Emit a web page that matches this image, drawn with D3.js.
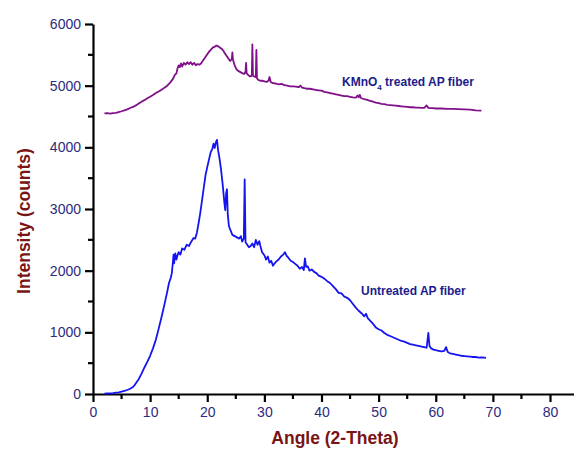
<!DOCTYPE html>
<html>
<head>
<meta charset="utf-8">
<script src="https://cdn.jsdelivr.net/npm/d3@7"></script>
<style>
  body { margin: 0; background: #fff; }
  svg { display: block; font-family: "Liberation Sans", Arial, sans-serif; }
</style>
</head>
<body>
<script>
"use strict";

///////////////////
// data
///////////////////

// untreated AP fiber: [angle, counts]
var untreated = [
  [2.0,5],[2.5,8],[3,10],[3.5,15],[4,22],[4.5,28],[5,38],[5.5,50],[6,65],[6.5,85],
  [7,115],[7.3,145],[7.6,185],[8,240],[8.5,330],[9,430],[9.5,520],[10,620],[10.5,740],
  [11,880],[11.5,1060],[12,1250],[12.5,1450],[13,1660],[13.3,1800],[13.6,1880],[13.8,1960],
  [14.0,2150],[14.1,2260],[14.2,2120],[14.4,2280],[14.6,2180],[14.8,2250],[15.0,2300],
  [15.3,2260],[15.6,2360],[16.0,2340],[16.4,2420],[16.8,2400],[17.2,2470],[17.6,2530],
  [17.9,2520],[18.2,2620],[18.5,2780],[18.8,2950],[19.1,3150],[19.4,3350],[19.7,3550],
  [20.0,3680],[20.3,3800],[20.6,3920],[20.9,3980],[21.1,4060],[21.3,3990],[21.5,4080],
  [21.7,4120],[21.9,3950],[22.1,3850],[22.4,3650],[22.7,3400],[23.0,3100],[23.15,2980],
  [23.3,3250],[23.45,3320],[23.6,2900],[23.8,2720],[24.1,2650],[24.4,2580],[24.8,2560],
  [25.2,2540],[25.6,2520],[25.9,2560],[26.1,2470],[26.4,2520],[26.55,3480],[26.7,2460],
  [27.0,2420],[27.3,2380],[27.6,2400],[27.9,2440],[28.2,2380],[28.5,2500],[28.8,2420],
  [29.1,2480],[29.3,2400],[29.6,2300],[30.0,2250],[30.3,2180],[30.6,2230],[30.9,2130],
  [31.2,2160],[31.5,2080],[31.8,2120],[32.1,2150],[32.5,2180],[32.9,2230],[33.3,2260],
  [33.6,2300],[33.9,2240],[34.2,2210],[34.6,2160],[35.0,2140],[35.4,2110],[35.8,2080],
  [36.2,2030],[36.6,2060],[36.9,2010],[37.1,2200],[37.3,2060],[37.6,2070],[37.9,2000],
  [38.3,2020],[38.7,1980],[39.1,1960],[39.5,1920],[40.0,1900],[40.5,1870],[41,1830],
  [41.5,1800],[42,1750],[42.5,1700],[43,1640],[43.5,1630],[44,1580],[44.5,1560],
  [45,1520],[45.5,1460],[46,1400],[46.5,1350],[47,1310],[47.5,1260],[47.8,1300],
  [48.1,1230],[48.5,1190],[49,1140],[49.5,1080],[50,1050],[50.5,1030],[51,990],
  [51.5,960],[52,940],[52.5,920],[53,900],[53.5,880],[54,860],[54.5,850],[55,830],
  [55.5,810],[56,800],[56.5,790],[57,780],[57.5,770],[58,760],[58.4,750],[58.7,990],
  [58.9,780],[59.2,740],[59.6,720],[60,710],[60.5,700],[61,690],[61.5,700],[61.8,760],
  [62.1,680],[62.5,660],[63,650],[63.5,640],[64,630],[64.5,620],[65,615],[65.5,610],
  [66,605],[66.5,600],[67,600],[67.5,590],[68,595],[68.5,590],[68.8,585]
];

// KMnO4 treated AP fiber: [angle, counts]
var treated = [
  [2.0,4550],[2.5,4555],[3,4548],[3.5,4556],[4,4560],[4.5,4572],[5,4585],[5.5,4600],
  [6,4615],[6.5,4638],[7,4655],[7.5,4680],[8,4710],[8.5,4740],[9,4765],[9.5,4795],
  [10,4820],[10.5,4850],[11,4880],[11.5,4905],[12,4935],[12.5,4965],[13,5000],
  [13.5,5050],[14,5110],[14.3,5170],[14.6,5200],[14.8,5280],[15.0,5330],[15.2,5300],
  [15.4,5360],[15.6,5310],[15.9,5370],[16.2,5340],[16.5,5380],[16.8,5350],[17.1,5380],
  [17.4,5340],[17.7,5370],[18.0,5330],[18.3,5350],[18.6,5340],[18.9,5360],[19.2,5400],
  [19.5,5440],[19.8,5480],[20.1,5520],[20.4,5560],[20.7,5590],[21.0,5620],[21.3,5630],
  [21.6,5650],[21.9,5640],[22.2,5620],[22.5,5600],[22.8,5570],[23.1,5520],[23.4,5480],
  [23.7,5440],[24.0,5400],[24.3,5430],[24.4,5540],[24.5,5420],[24.8,5330],[25.1,5270],
  [25.4,5240],[25.8,5220],[26.2,5200],[26.5,5190],[26.7,5230],[26.8,5370],[26.9,5200],
  [27.2,5170],[27.5,5150],[27.8,5160],[27.9,5670],[28.0,5160],[28.2,5150],[28.5,5140],
  [28.6,5580],[28.7,5120],[29.0,5090],[29.3,5080],[29.6,5080],[30.0,5070],[30.4,5060],
  [30.7,5080],[30.9,5140],[31.1,5060],[31.5,5040],[32,5035],[32.5,5020],[33,5030],
  [33.5,5010],[34,5000],[34.5,4990],[35,4990],[35.5,4985],[36,4975],[36.3,5000],
  [36.6,4970],[37,4960],[37.5,4950],[38,4950],[38.5,4940],[39,4930],[39.5,4925],
  [40,4920],[40.5,4900],[41,4890],[41.5,4880],[42,4870],[42.5,4860],[43,4850],
  [43.5,4840],[44,4830],[44.5,4830],[45,4820],[45.5,4810],[46,4805],[46.3,4840],
  [46.5,4810],[46.7,4850],[46.9,4800],[47.5,4780],[48,4770],[48.5,4755],[49,4740],
  [49.5,4725],[50,4715],[50.5,4705],[51,4700],[51.5,4690],[52,4685],[52.5,4680],
  [53,4675],[53.5,4670],[54,4665],[54.5,4660],[55,4655],[55.5,4650],[56,4650],
  [56.5,4645],[57,4645],[57.5,4640],[58,4640],[58.4,4680],[58.7,4640],[59,4635],
  [59.5,4635],[60,4630],[61,4630],[62,4625],[63,4625],[64,4620],[65,4615],[66,4610],
  [67,4600],[68,4595]
];

var xTicks = [0, 10, 20, 30, 40, 50, 60, 70, 80];
var yTicks = [0, 1000, 2000, 3000, 4000, 5000, 6000];

///////////////////
// layout
///////////////////
var width = 574, height = 449;
var margin = { top: 24, right: 0, bottom: 55, left: 93 };
var tickColor = "#2b2b80";

var svg = d3.select("body").append("svg")
    .attr("width", width)
    .attr("height", height);

var x = d3.scaleLinear().domain([0, 84.2]).range([margin.left, width - margin.right]);
var y = d3.scaleLinear().domain([0, 6000]).range([height - margin.bottom, margin.top]);

// minor ticks (half steps)
var xMinor = d3.range(5, 85, 10);
var yMinor = d3.range(500, 6000, 1000);

svg.append("g")
    .selectAll("line")
    .data(xMinor)
    .enter().append("line")
    .attr("x1", function(d) { return x(d); })
    .attr("x2", function(d) { return x(d); })
    .attr("y1", y(0))
    .attr("y2", y(0) + 5)
    .attr("stroke", "#000")
    .attr("stroke-width", 2.2);

svg.append("g")
    .selectAll("line")
    .data(yMinor)
    .enter().append("line")
    .attr("x1", x(0) - 5)
    .attr("x2", x(0))
    .attr("y1", function(d) { return y(d); })
    .attr("y2", function(d) { return y(d); })
    .attr("stroke", "#000")
    .attr("stroke-width", 2.2);

// axes
function styleAxis(g) {
    g.select(".domain").attr("stroke", "#000").attr("stroke-width", 2.2);
    g.selectAll(".tick line").attr("stroke", "#000").attr("stroke-width", 2.2);
    g.selectAll(".tick text")
        .attr("fill", tickColor)
        .style("font-size", "14px")
        .style("font-family", "'Liberation Sans', Arial, sans-serif");
}

svg.append("g")
    .attr("transform", "translate(0," + y(0) + ")")
    .call(d3.axisBottom(x).tickValues(xTicks).tickFormat(d3.format("d"))
        .tickSize(8).tickSizeOuter(0).tickPadding(5))
    .call(styleAxis);

svg.append("g")
    .attr("transform", "translate(" + x(0) + ",0)")
    .call(d3.axisLeft(y).tickValues(yTicks).tickFormat(d3.format("d"))
        .tickSize(8).tickSizeOuter(0).tickPadding(4))
    .call(styleAxis);

// lines
var line = d3.line()
    .x(function(d) { return x(d[0]); })
    .y(function(d) { return y(d[1]); });

svg.append("path")
    .datum(treated)
    .attr("d", line)
    .attr("fill", "none")
    .attr("stroke", "#80108a")
    .attr("stroke-width", 1.8)
    .attr("stroke-linejoin", "round");

svg.append("path")
    .datum(untreated)
    .attr("d", line)
    .attr("fill", "none")
    .attr("stroke", "#1414f0")
    .attr("stroke-width", 1.8)
    .attr("stroke-linejoin", "round");

// annotations
var kLabel = svg.append("text")
    .attr("x", 342)
    .attr("y", 86)
    .attr("fill", "#1c1c8c")
    .style("font-size", "12px")
    .style("font-weight", "bold");
kLabel.append("tspan").text("KMnO");
kLabel.append("tspan").attr("dy", 4).style("font-size", "8px").text("4");
kLabel.append("tspan").attr("dy", -4).text(" treated AP fiber");

svg.append("text")
    .attr("x", 361)
    .attr("y", 295)
    .attr("fill", "#1c1c8c")
    .style("font-size", "12px")
    .style("font-weight", "bold")
    .text("Untreated AP fiber");

// axis titles
svg.append("text")
    .attr("x", 335)
    .attr("y", 444)
    .attr("text-anchor", "middle")
    .attr("fill", "#7a1414")
    .style("font-size", "17.5px")
    .style("font-weight", "bold")
    .text("Angle (2-Theta)");

svg.append("text")
    .attr("transform", "translate(30,221) rotate(-90)")
    .attr("text-anchor", "middle")
    .attr("fill", "#7a1414")
    .style("font-size", "17.5px")
    .style("font-weight", "bold")
    .text("Intensity (counts)");
</script>
</body>
</html>
